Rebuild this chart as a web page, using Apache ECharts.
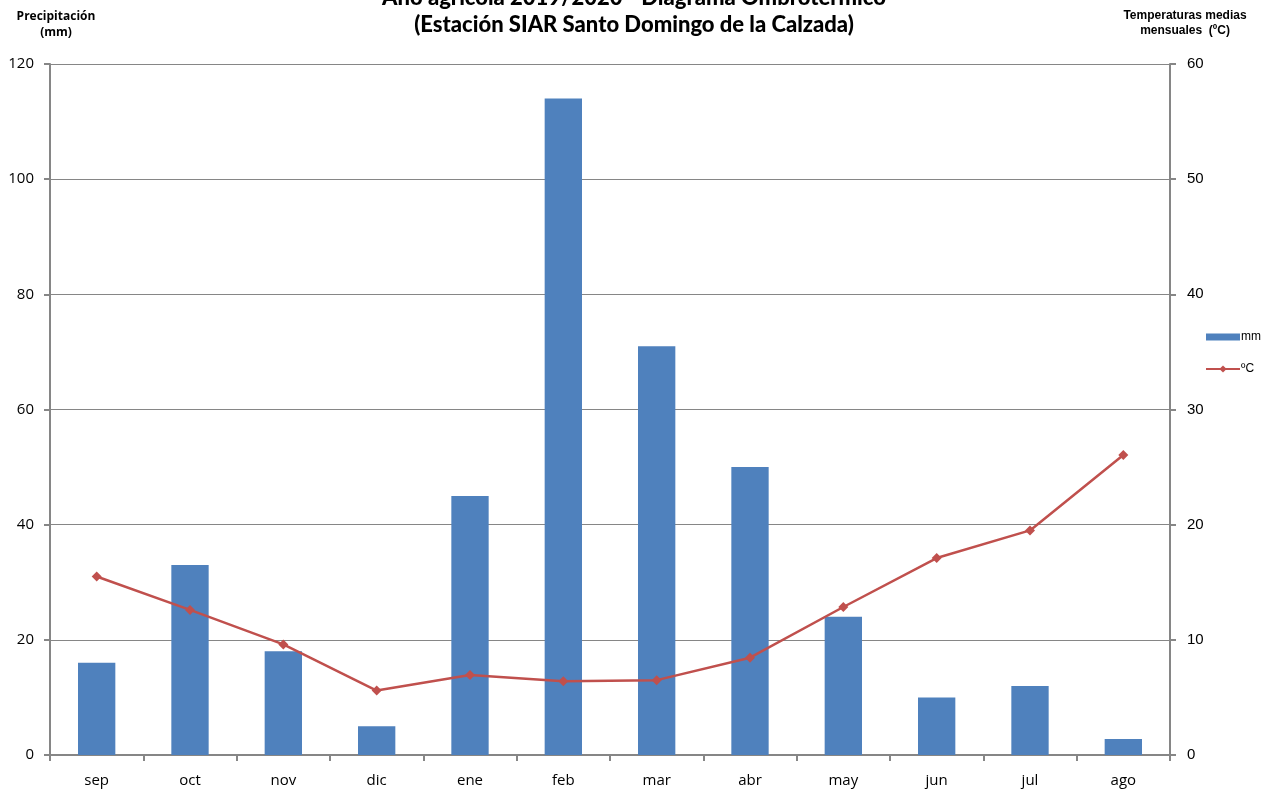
<!DOCTYPE html>
<html style="height: 100%;">
  <head>
    <meta charset="utf-8" />
    <script src="https://cdn.jsdelivr.net/npm/echarts@6/dist/echarts.min.js"></script>
  </head>
  <body style="height: 100%; margin: 0; background: #fff;">
    <div id="container" style="width: 1268px; height: 790px;"></div>
    <script type="text/javascript">
      var meses = ["sep", "oct", "nov", "dic", "ene", "feb", "mar", "abr", "may", "jun", "jul", "ago"];
      var lluvia = [16, 33, 18, 5, 45, 114, 71, 50, 24, 10, 12, 2.8];
      var temperatura = [15.5, 12.6, 9.6, 5.6, 6.95, 6.4, 6.5, 8.45, 12.85, 17.1, 19.5, 26.05];

      var gris = "#868686";
      var myChart = echarts.init(document.getElementById("container"));
      var option = {
        animation: false,
        backgroundColor: "#fff",
        title: {
          text: "Año agrícola 2019/2020 - Diagrama Ombrotérmico\n(Estación SIAR Santo Domingo de la Calzada)",
          left: "center",
          top: -21,
          textStyle: {
            fontFamily: "Lato",
            fontWeight: 900,
            fontSize: 22,
            lineHeight: 27,
            color: "#000",
          },
        },
        graphic: [
          {
            type: "text",
            x: 56,
            y: 9,
            style: {
              text: "Precipitación\n(mm)",
              textAlign: "center",
              font: "bold 12px 'Open Sans'",
              lineHeight: 16,
              fill: "#000",
            },
          },
          {
            type: "text",
            x: 1185,
            y: 8,
            style: {
              text: "Temperaturas medias\nmensuales  (ºC)",
              textAlign: "center",
              font: "bold 12px 'Liberation Sans'",
              lineHeight: 15,
              fill: "#000",
            },
          },
        ],
        legend: {
          orient: "vertical",
          left: 1200,
          top: 326,
          itemWidth: 34,
          itemHeight: 9,
          itemGap: 20,
          textStyle: { fontFamily: "Liberation Sans", fontSize: 12, color: "#000", padding: [0, 0, 0, -4] },
          data: [
            { name: "mm", icon: "path://M0,1H34V8H0Z" },
            { name: "ºC" },
          ],
        },
        grid: { left: 50, right: 98, top: 64, bottom: 35 },
        xAxis: {
          type: "category",
          data: meses,
          boundaryGap: true,
          axisLine: { lineStyle: { color: gris, width: 2 } },
          axisTick: { show: true, length: 6, lineStyle: { color: gris, width: 2 } },
          axisLabel: { color: "#000", fontFamily: "Open Sans", fontSize: 15, margin: 18 },
        },
        yAxis: [
          {
            type: "value",
            min: 0,
            max: 120,
            interval: 20,
            axisLine: { show: true, lineStyle: { color: gris, width: 2 } },
            axisTick: { show: true, length: 6, lineStyle: { color: gris, width: 2 } },
            axisLabel: { color: "#000", fontFamily: "Open Sans", fontSize: 15, margin: 16 },
            splitLine: { lineStyle: { color: gris, width: 1 } },
          },
          {
            type: "value",
            min: 0,
            max: 60,
            interval: 10,
            position: "right",
            axisLine: { show: true, lineStyle: { color: gris, width: 2 } },
            axisTick: { show: true, length: 6, lineStyle: { color: gris, width: 2 } },
            axisLabel: { color: "#000", fontFamily: "Liberation Sans", fontSize: 15, margin: 17 },
            splitLine: { show: false },
          },
        ],
        series: [
          {
            name: "mm",
            type: "bar",
            data: lluvia,
            barWidth: "40%",
            itemStyle: { color: "#4F81BD" },
          },
          {
            name: "ºC",
            type: "line",
            yAxisIndex: 1,
            data: temperatura,
            symbol: "diamond",
            symbolSize: 10,
            lineStyle: { color: "#C0504D", width: 2.5 },
            itemStyle: { color: "#C0504D" },
          },
        ],
      };
      myChart.setOption(option);
    </script>
  </body>
</html>
